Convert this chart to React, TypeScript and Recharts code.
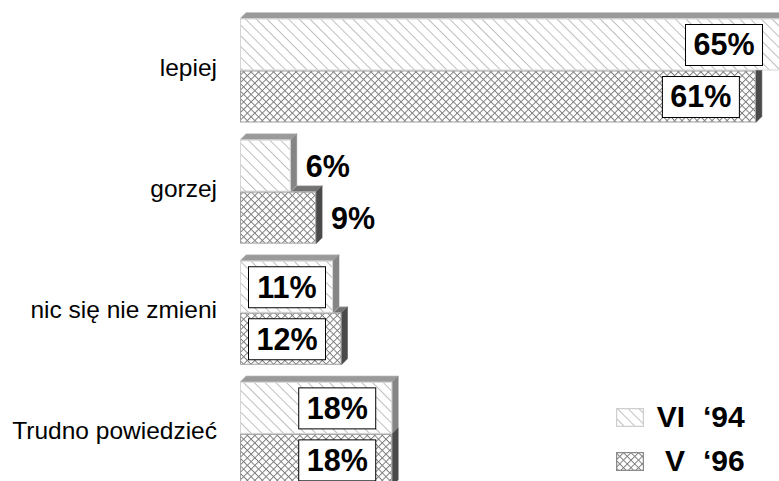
import React from 'react';
import { BarChart, Bar, XAxis, YAxis, LabelList, Legend } from 'recharts';

const categories = ['lepiej', 'gorzej', 'nic się nie zmieni', 'Trudno powiedzieć'];
const vi94 = [65, 6, 11, 18];
const v96 = [61, 9, 12, 18];
const legendMonth = ['VI', 'V'];
const legendYear = ['‘94', '‘96'];

const data = categories.map((name, i) => ({ name, vi94: vi94[i], v96: v96[i] }));

const FONT = '"Liberation Sans", Arial, Helvetica, sans-serif';
const D = 6; // 3d depth
const VIEW_RIGHT = 779;

const pts = (p: number[][]) => p.map(([a, b]) => `${a},${b}`).join(' ');

// 3d bar: front face + top + right side
const Bar3D = (props: any) => {
    const { x, y, width, height, payload, series } = props;
    if (width == null || width <= 0) return null;
    const x1 = x + width;
    const y2 = y + height;
    const isA = series === 'a';
    const topFill = isA ? '#9a9a9a' : '#727272';
    const sideFill = isA ? '#858585' : '#4a4a4a';
    const border = isA ? '#d6d6d6' : '#a0a0a0';

    let top: number[][] | null = null;
    let side: number[][];
    const fullSide = [[x1, y], [x1 + D, y - D], [x1 + D, y2 - D], [x1, y2]];

    if (isA) {
        top = [[x, y], [x1, y], [x1 + D, y - D], [x + D, y - D]];
        side = fullSide;
    } else {
        // the bar above covers part of this one
        const upperEnd = x + (width * payload.vi94) / payload.v96;
        if (x1 > upperEnd + 0.5) {
            top = [[upperEnd, y], [x1, y], [x1 + D, y - D], [upperEnd + D, y - D]];
            side = fullSide;
        } else if (x1 >= upperEnd - 0.5) {
            side = fullSide;
        } else {
            side = [[x1, y], [x1 + D, y], [x1 + D, y2 - D], [x1, y2]];
        }
    }

    return (
        <g>
            {top && <polygon points={pts(top)} fill={topFill} stroke="#c4c4c4" strokeWidth={0.6} />}
            <polygon points={pts(side)} fill={sideFill} stroke={sideFill} strokeWidth={0.5} />
            <rect
                x={x + 0.5}
                y={y + 0.5}
                width={width - 1}
                height={height - 1}
                fill={isA ? 'url(#hatchA)' : 'url(#crossB)'}
                stroke={border}
                strokeWidth={1}
            />
        </g>
    );
};

const renderLabel = (props: any) => {
    const vb = props.viewBox || props;
    const x = vb.x ?? props.x;
    const y = vb.y ?? props.y;
    const width = vb.width ?? props.width;
    const height = vb.height ?? props.height;
    const { value } = props;
    const end = x + width;
    const cy = y + height / 2;
    const textStyle = { fontFamily: FONT, fontWeight: 700, fontSize: 30.5 };

    if (width < 85) {
        return (
            <text x={end + 15} y={cy} dy="0.36em" textAnchor="start" fill="#000" style={textStyle}>
                {value}%
            </text>
        );
    }
    const boxW = 77;
    const boxH = 41;
    const right = Math.min(end - 17, VIEW_RIGHT - 17);
    const left = Math.max(x + 8, right - boxW);
    return (
        <g>
            <rect x={left + 0.5} y={cy - boxH / 2 + 0.5} width={boxW} height={boxH} fill="#fff" stroke="#000" strokeWidth={1} />
            <text x={left + boxW / 2 + 0.5} y={cy} dy="0.36em" textAnchor="middle" fill="#000" style={textStyle}>
                {value}%
            </text>
        </g>
    );
};

const CategoryTick = (props: any) => {
    const { x, y, payload } = props;
    return (
        <text x={x} y={y} dy="0.24em" textAnchor="end" fill="#000" style={{ fontFamily: FONT, fontSize: 24.5 }}>
            {payload.value}
        </text>
    );
};

const renderLegend = () => (
    <div style={{ fontFamily: FONT, fontWeight: 700, fontSize: 30, color: '#000' }}>
        {legendMonth.map((m, i) => (
            <div key={m} style={{ display: 'flex', alignItems: 'center', height: 44, lineHeight: '44px' }}>
                <svg width={28} height={19} style={{ display: 'block' }}>
                    <rect
                        x={0.5}
                        y={0.5}
                        width={27}
                        height={18}
                        fill={i === 0 ? 'url(#hatchA)' : 'url(#crossB)'}
                        stroke={i === 0 ? '#cfcfcf' : '#8a8a8a'}
                        strokeWidth={1.5}
                    />
                </svg>
                <span style={{ width: 41, textAlign: 'right' }}>{m}</span>
                <span style={{ marginLeft: 18 }}>{legendYear[i]}</span>
            </div>
        ))}
    </div>
);

export default function App() {
    return (
        <div style={{ position: 'absolute', left: 0, top: 0, width: 779, height: 481, overflow: 'hidden', background: '#fff' }}>
            <BarChart
                width={832}
                height={494}
                data={data}
                layout="vertical"
                margin={{ top: 9.5, right: 0, bottom: 0, left: 0 }}
                barSize={52}
                barGap={0}
            >
                <defs>
                    <pattern id="hatchA" width={7.6} height={7.6} patternUnits="userSpaceOnUse" patternTransform="rotate(-45)">
                        <rect width={7.6} height={7.6} fill="#fff" />
                        <line x1={0} y1={0} x2={0} y2={7.6} stroke="#b4b4b4" strokeWidth={1.7} />
                    </pattern>
                    <pattern id="crossB" width={5.3} height={5.3} patternUnits="userSpaceOnUse" patternTransform="rotate(45)">
                        <rect width={5.3} height={5.3} fill="#fff" />
                        <line x1={0} y1={0} x2={0} y2={5.3} stroke="#7c7c7c" strokeWidth={1.9} />
                        <line x1={0} y1={0} x2={5.3} y2={0} stroke="#7c7c7c" strokeWidth={1.9} />
                    </pattern>
                </defs>
                <XAxis type="number" domain={[0, 70]} hide />
                <YAxis
                    type="category"
                    dataKey="name"
                    width={240}
                    axisLine={false}
                    tickLine={false}
                    tickSize={6}
                    tickMargin={17}
                    tick={<CategoryTick />}
                    interval={0}
                />
                <Legend
                    layout="horizontal"
                    verticalAlign="middle"
                    content={renderLegend}
                    wrapperStyle={{ position: 'absolute', left: 616, top: 395, width: 170, height: 88 }}
                />
                <Bar dataKey="vi94" name="VI ‘94" isAnimationActive={false} shape={(p: any) => <Bar3D {...p} series="a" />}>
                    <LabelList dataKey="vi94" content={renderLabel} />
                </Bar>
                <Bar dataKey="v96" name="V ‘96" isAnimationActive={false} shape={(p: any) => <Bar3D {...p} series="b" />}>
                    <LabelList dataKey="v96" content={renderLabel} />
                </Bar>
            </BarChart>
        </div>
    );
}
